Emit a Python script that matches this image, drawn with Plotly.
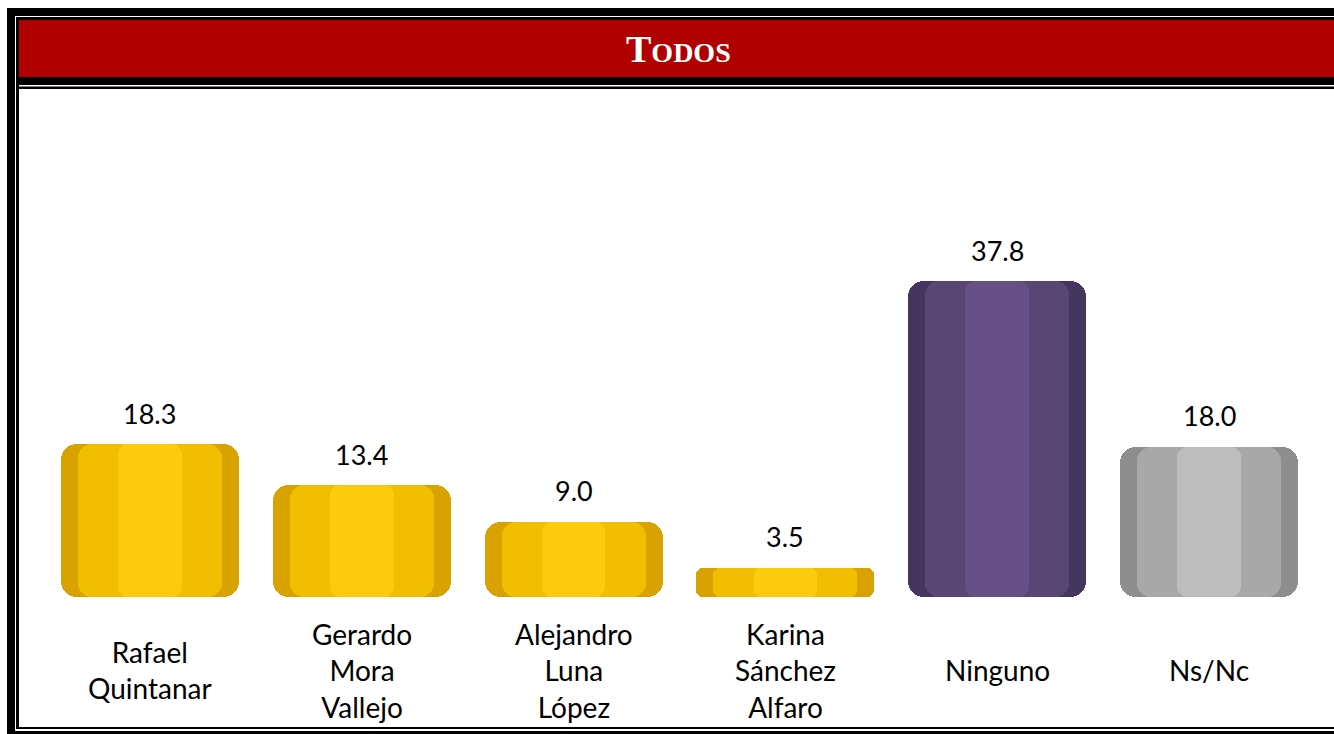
import plotly.graph_objects as go

categories = ["Rafael Quintanar", "Gerardo Mora Vallejo", "Alejandro Luna López",
              "Karina Sánchez Alfaro", "Ninguno", "Ns/Nc"]
label_lines = ["Rafael<br>Quintanar", "Gerardo<br>Mora<br>Vallejo", "Alejandro<br>Luna<br>López",
               "Karina<br>Sánchez<br>Alfaro", "Ninguno", "Ns/Nc"]
values = [18.3, 13.4, 9.0, 3.5, 37.8, 18.0]
edge_colors = ["#D8A300", "#D8A300", "#D8A300", "#D8A300", "#45365F", "#8E8E8E"]
main_colors = ["#F2BE00", "#F2BE00", "#F2BE00", "#F2BE00", "#584775", "#A8A8A8"]
light_colors = ["#FCCB0C", "#FCCB0C", "#FCCB0C", "#FCCB0C", "#654F85", "#BDBDBD"]
title_text = "T<span style='font-size:28px'>ODOS</span>"

OFF = 0                  # body margin removed by post_script
W, H = 1334 - OFF, 734 - OFF
PX0, PW = 44, 1271       # plot area left / width (page px)
PY0, PH = 597, 376       # plot area bottom / height (page px)


def px(x):
    return (x - PX0) / PW


def py(y):
    return (PY0 - y) / PH


fig = go.Figure()
halves = [v / 2 for v in values]
quarters = [v / 4 for v in values]
for colors, width, radius in [(edge_colors, 0.84, 16), (main_colors, 0.68, 14), (light_colors, 0.3, 10)]:
    # rounded upper and lower halves of each cylinder
    fig.add_trace(go.Bar(x=categories, y=halves, base=halves, width=width,
                         marker=dict(color=colors, cornerradius=radius, line=dict(width=0)),
                         hoverinfo="skip", showlegend=False))
    fig.add_trace(go.Bar(x=categories, y=[-h for h in halves], base=halves, width=width,
                         marker=dict(color=colors, cornerradius=radius, line=dict(width=0)),
                         hoverinfo="skip", showlegend=False))
    # square middle section that joins the halves
    fig.add_trace(go.Bar(x=categories, y=halves, base=quarters, width=width,
                         marker=dict(color=colors, line=dict(width=0)),
                         hoverinfo="skip", showlegend=False))

annotations = []
for c, v in zip(categories, values):
    annotations.append(dict(x=c, y=v, xref="x", yref="y", text=f"{v:.1f}", showarrow=False,
                            yanchor="middle", yshift=31,
                            font=dict(family="Lato, Open Sans, sans-serif", size=27, color="#000000")))
for c, t in zip(categories, label_lines):
    annotations.append(dict(x=c, y=py(670), xref="x", yref="paper", text=t, showarrow=False,
                            yanchor="middle", align="center",
                            font=dict(family="Lato, Open Sans, sans-serif", size=28, color="#000000")))
annotations.append(dict(x=px(678), y=py(49), xref="paper", yref="paper", text=title_text, showarrow=False,
                        xanchor="center", yanchor="middle",
                        font=dict(family="Liberation Serif, Times New Roman, serif", size=38, color="#FFFFFF",
                                  weight="bold")))


def rect(x0, y0, x1, y1, color):
    return dict(type="rect", xref="paper", yref="paper", x0=px(x0), x1=px(x1), y0=py(y0), y1=py(y1),
                fillcolor=color, line=dict(width=0), layer="below")


shapes = [
    rect(7, 8, 1340, 16, "#000000"),     # top thick band
    rect(7, 8, 15, 740, "#000000"),      # left thick band
    rect(16, 17, 1340, 20, "#000000"),   # thin line above red
    rect(16, 17, 19, 729, "#000000"),    # inner left thin line
    rect(19, 20, 1340, 77, "#B00000"),   # red title band
    rect(16, 77, 1340, 85, "#000000"),   # black below red
    rect(16, 86.5, 1340, 89, "#000000"), # inner top thin line
    rect(16, 727, 1340, 729, "#000000"), # inner bottom thin line
    rect(7, 731, 1340, 740, "#000000"),  # outer bottom thick line
]

fig.update_layout(
    width=W, height=H,
    margin=dict(l=PX0 - OFF, r=W - (PX0 - OFF) - PW, t=PY0 - PH - OFF, b=H - (PY0 - OFF), pad=0),
    paper_bgcolor="#FFFFFF", plot_bgcolor="rgba(0,0,0,0)",
    barmode="overlay", bargap=0,
    xaxis=dict(showticklabels=False, showgrid=False, zeroline=False, showline=False, ticks=""),
    yaxis=dict(range=[0, 45], visible=False, showgrid=False, zeroline=False),
    annotations=annotations, shapes=shapes,
    showlegend=False,
)

fig.write_html("out.html", config={"displayModeBar": False},
               post_script="document.body.style.margin='0';document.body.style.overflow='hidden';")
